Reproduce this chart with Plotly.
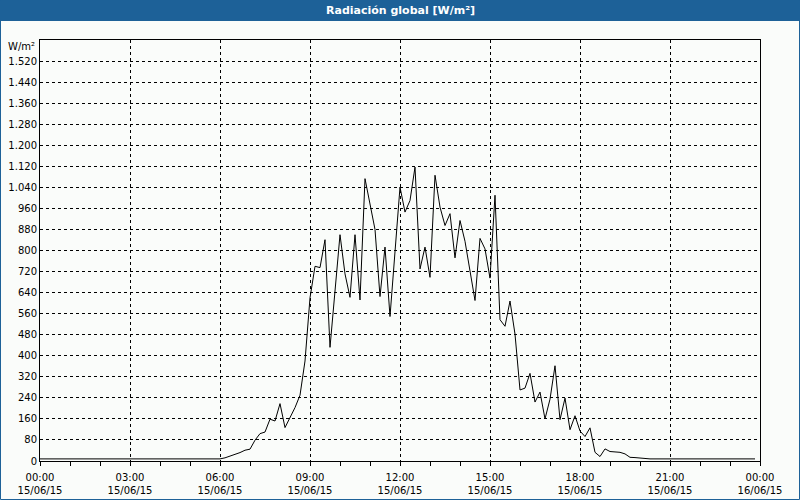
import plotly.graph_objects as go
import pandas as pd

# 10-minute samples, 15/06/15 00:00 .. 23:50
times = pd.date_range("2015-06-15 00:00", periods=144, freq="10min")

radiation = [
    # 00:00 - 05:50
    8, 8, 8, 8, 8, 8, 8, 8, 8, 8, 8, 8,
    8, 8, 8, 8, 8, 8, 8, 8, 8, 8, 8, 8,
    8, 8, 8, 8, 8, 8, 8, 8, 8, 8, 8, 8,
    # 06:00 - 08:50
    8, 12, 19, 23, 32, 41, 45, 79, 104, 110, 159, 152,
    218, 127, 165, 203, 250, 380,
    # 09:00 - 11:50
    620, 740, 735, 841, 432, 660, 860, 711, 622, 860, 612, 1073,
    975, 880, 625, 813, 549, 795,
    # 12:00 - 14:50
    1041, 946, 990, 1117, 730, 813, 698, 1086, 965, 895, 940, 772,
    914, 835, 727, 610, 846, 806,
    # 15:00 - 17:50
    695, 1010, 537, 512, 608, 482, 270, 277, 333, 224, 262, 160,
    235, 362, 157, 239, 119, 172,
    # 18:00 - 20:50
    114, 93, 126, 33, 17, 46, 36, 34, 33, 27, 14, 13,
    11, 8, 8, 8, 8, 8,
    # 21:00 - 23:50
    8, 8, 8, 8, 8, 8, 8, 8, 8, 8, 8, 8,
    8, 8, 8, 8, 8, 8,
]

y_tick_values = [0, 80, 160, 240, 320, 400, 480, 560, 640, 720, 800, 880,
                 960, 1040, 1120, 1200, 1280, 1360, 1440, 1520]
y_tick_labels = ["0", "80", "160", "240", "320", "400", "480", "560", "640",
                 "720", "800", "880", "960", "1.040", "1.120", "1.200",
                 "1.280", "1.360", "1.440", "1.520"]

x_tick_values = ["2015-06-15 00:00", "2015-06-15 03:00", "2015-06-15 06:00",
                 "2015-06-15 09:00", "2015-06-15 12:00", "2015-06-15 15:00",
                 "2015-06-15 18:00", "2015-06-15 21:00", "2015-06-16 00:00"]
x_tick_labels = ["00:00<br>15/06/15", "03:00<br>15/06/15", "06:00<br>15/06/15",
                 "09:00<br>15/06/15", "12:00<br>15/06/15", "15:00<br>15/06/15",
                 "18:00<br>15/06/15", "21:00<br>15/06/15", "00:00<br>16/06/15"]

title_text = "Radiación global [W/m²]"
unit_text = "W/m²"

BLUE = "#1D6198"
BG = "#FAFCFA"
FONT = "DejaVu Sans"

fig = go.Figure()
fig.add_trace(go.Scatter(x=times, y=radiation, mode="lines",
                         line=dict(color="black", width=1),
                         hoverinfo="skip", showlegend=False))

W, H = 800, 500
ML, MR, MT, MB = 40, 40, 40, 39
pw, ph = W - ML - MR, H - MT - MB


def px_x(p):
    return (p - ML) / pw


def px_y(p):
    return (H - MB - p) / ph


fig.update_layout(
    width=W, height=H,
    margin=dict(l=ML, r=MR, t=MT, b=MB, pad=0, autoexpand=False),
    paper_bgcolor=BG, plot_bgcolor=BG,
    font=dict(family=FONT, size=10, color="#000000"),
    xaxis=dict(
        type="date", automargin=False,
        range=["2015-06-15 00:00", "2015-06-16 00:00"],
        tickmode="array", tickvals=x_tick_values, ticktext=x_tick_labels,
        ticks="outside", ticklen=4, tickcolor="black", tickwidth=1,
        ticklabelstandoff=3,
        showline=True, linecolor="black", linewidth=1, mirror=True,
        showgrid=True, gridcolor="black", gridwidth=1, griddash="3px,3px",
        minor=dict(dtick=3600000, tick0="2015-06-15 00:00", ticks="outside",
                   ticklen=4, tickcolor="black", tickwidth=1, showgrid=False),
        zeroline=False, fixedrange=True,
    ),
    yaxis=dict(
        range=[0, 1600], automargin=False,
        tickmode="array", tickvals=y_tick_values, ticktext=y_tick_labels,
        ticks="", showline=True, linecolor="black", linewidth=1, mirror=True,
        showgrid=True, gridcolor="black", gridwidth=1, griddash="3px,3px",
        zeroline=False, fixedrange=True,
    ),
    shapes=[
        dict(type="rect", xref="paper", yref="paper",
             x0=px_x(0), x1=px_x(W), y0=px_y(21), y1=px_y(0),
             fillcolor=BLUE, line=dict(width=0), layer="above"),
        dict(type="rect", xref="paper", yref="paper",
             x0=px_x(0.5), x1=px_x(W - 0.5), y0=px_y(H - 0.5), y1=px_y(0.5),
             fillcolor="rgba(0,0,0,0)", line=dict(color=BLUE, width=1),
             layer="above"),
    ],
    annotations=[
        dict(text="<b>" + title_text + "</b>", xref="paper", yref="paper",
             x=0.5, y=px_y(10.5), xanchor="center", yanchor="middle",
             showarrow=False, font=dict(family=FONT, size=11, color="white")),
        dict(text=unit_text, xref="paper", yref="paper",
             x=px_x(37), y=px_y(46), xanchor="right", yanchor="middle",
             showarrow=False, font=dict(family=FONT, size=10, color="#000000")),
    ],
)

fig.write_html("out.html")
